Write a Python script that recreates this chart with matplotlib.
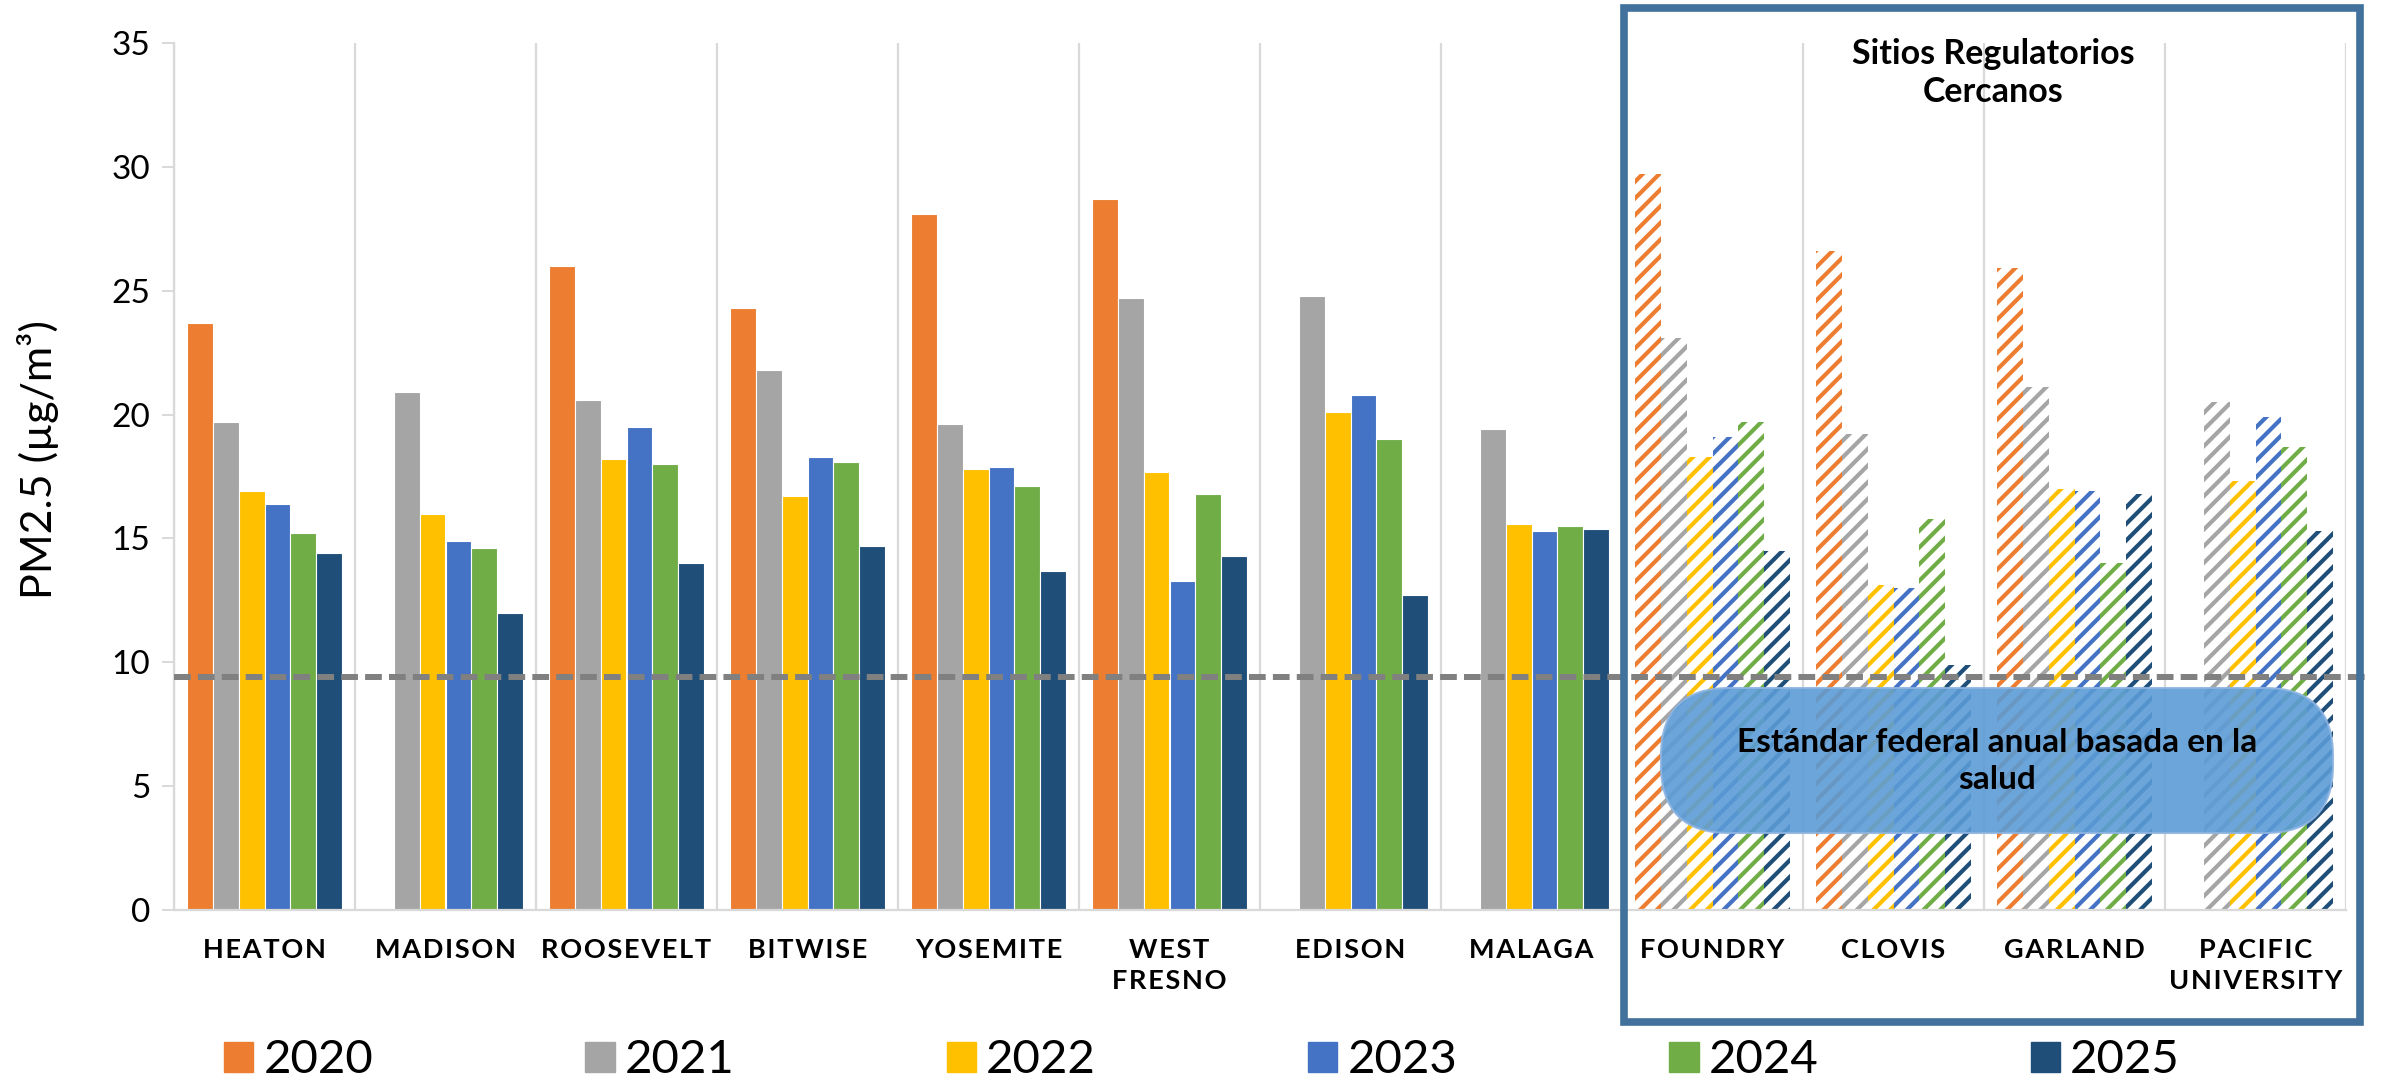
import numpy as np
import matplotlib
matplotlib.use("Agg")
import matplotlib.pyplot as plt
from matplotlib.patches import Rectangle, FancyBboxPatch

plt.rcParams['font.family'] = ['Lato', 'DejaVu Sans']
plt.rcParams['hatch.linewidth'] = 3.0

sites = ["HEATON", "MADISON", "ROOSEVELT", "BITWISE", "YOSEMITE", "WEST\nFRESNO",
         "EDISON", "MALAGA", "FOUNDRY", "CLOVIS", "GARLAND", "PACIFIC\nUNIVERSITY"]
years = ["2020", "2021", "2022", "2023", "2024", "2025"]
nan = np.nan
pm2020 = [23.7, nan, 26.0, 24.3, 28.1, 28.7, nan, nan, 29.7, 26.6, 25.9, nan]
pm2021 = [19.7, 20.9, 20.6, 21.8, 19.6, 24.7, 24.8, 19.4, 23.1, 19.2, 21.1, 20.5]
pm2022 = [16.9, 16.0, 18.2, 16.7, 17.8, 17.7, 20.1, 15.6, 18.3, 13.1, 17.0, 17.3]
pm2023 = [16.4, 14.9, 19.5, 18.3, 17.9, 13.3, 20.8, 15.3, 19.1, 13.0, 16.9, 19.9]
pm2024 = [15.2, 14.6, 18.0, 18.1, 17.1, 16.8, 19.0, 15.5, 19.7, 15.8, 14.0, 18.7]
pm2025 = [14.4, 12.0, 14.0, 14.7, 13.7, 14.3, 12.7, 15.4, 14.5, 9.9, 16.8, 15.3]
n_community = 8          # first 8 sites are community sensors, rest regulatory
standard = 9.4

series = [pm2020, pm2021, pm2022, pm2023, pm2024, pm2025]
colors = ["#ED7D31", "#A5A5A5", "#FFC000", "#4472C4", "#70AD47", "#1F4E79"]


def spaced(s):
    # letter-spaced axis labels
    return "\n".join("\u200a".join(line) for line in s.split("\n"))


fig = plt.figure(figsize=(23.87, 10.81), dpi=100)
ax = fig.add_axes([174 / 2387, 171 / 1081, (2346 - 174) / 2387, 867 / 1081])

x = np.arange(len(sites))
w = 0.143
for k, (vals, c) in enumerate(zip(series, colors)):
    vals = np.array(vals, dtype=float)
    pos = x + (k - 2.5) * w
    ax.bar(pos[:n_community], vals[:n_community], w, color=c,
           edgecolor="white", linewidth=0.8, zorder=2)
    ax.bar(pos[n_community:], vals[n_community:], w, facecolor="white",
           edgecolor=c, hatch="//", linewidth=0, zorder=2)

ax.set_xlim(-0.5, len(sites) - 0.5)
ax.set_ylim(0, 35)
ax.set_yticks(range(0, 36, 5))
ax.set_xticks(x)
ax.set_xticklabels([spaced(s) for s in sites], fontsize=19.5, fontweight="bold",
                   linespacing=1.35)
ax.set_xticks(np.arange(-0.5, len(sites)), minor=True)
ax.grid(which="minor", axis="x", color="#D9D9D9", linewidth=1.6, zorder=0)
ax.tick_params(axis="x", which="both", length=0, pad=20)
ax.tick_params(axis="y", length=8.6, width=1.4, color="#D9D9D9", pad=8.6,
               labelsize=24)
for side in ["top", "right"]:
    ax.spines[side].set_visible(False)
for side in ["left", "bottom"]:
    ax.spines[side].set_color("#D9D9D9")
    ax.spines[side].set_linewidth(1.6)

ax.set_ylabel("PM2.5 (µg/m³)", fontsize=31)
ax.yaxis.set_label_coords(-0.053, 0.52)

ax.axhline(standard, xmin=0, xmax=1.009, color="#808080", linewidth=4.3,
           dashes=(2.8, 1.2), clip_on=False, zorder=3)

# frame around the regulatory sites
frame = Rectangle((16.24, 0.59), 23.60 - 16.24, 10.73 - 0.59, fill=False,
                  edgecolor="#41719C", linewidth=5.5,
                  transform=fig.dpi_scale_trans, zorder=5)
fig.patches.append(frame)
fig.text(19.93 / 23.87, 1 - 73 / 1081, "Sitios Regulatorios\nCercanos",
         ha="center", va="center", fontsize=24.5, fontweight="bold",
         linespacing=1.25)

callout = FancyBboxPatch((16.61, 2.48), 23.33 - 16.61, 3.93 - 2.48,
                         boxstyle="round,pad=0,rounding_size=0.68",
                         facecolor="#5B9BD5", alpha=0.9, edgecolor="#8DB4E2",
                         linewidth=1.5, transform=fig.dpi_scale_trans, zorder=6)
fig.patches.append(callout)
fig.text(19.97 / 23.87, 1 - 761 / 1081,
         "Estándar federal anual basada en la\nsalud", ha="center",
         va="center", fontsize=24, fontweight="bold", linespacing=1.3,
         zorder=7)

handles = [Rectangle((0, 0), 1, 1, color=c) for c in colors]
fig.legend(handles, years, loc="center", ncol=6, mode="expand",
           bbox_to_anchor=(224 / 2387, 0.0, (2180 - 224) / 2387, 0.038),
           frameon=False, fontsize=34, handlelength=0.62, handleheight=0.62,
           handletextpad=0.22, borderaxespad=0, borderpad=0)

fig.savefig("out.png", dpi=100)
